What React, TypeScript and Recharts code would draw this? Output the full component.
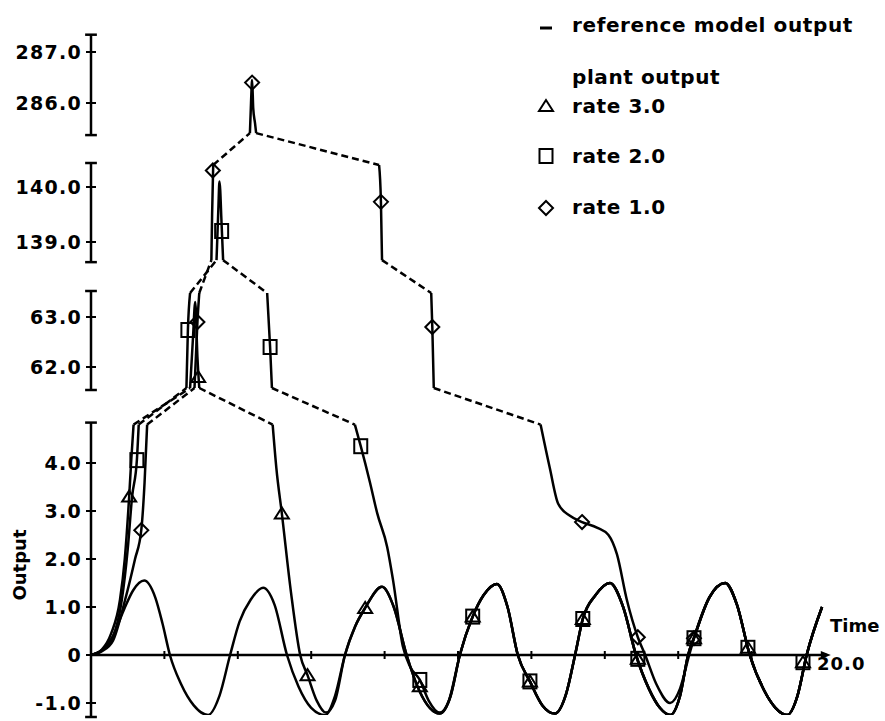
import { ComposedChart, Line, Scatter, XAxis, YAxis, ReferenceLine, ReferenceDot } from 'recharts'

type Pt = [number, number]

// reference model output, [time, value]
const referenceOutput: Pt[] = [
  [0, 0], [0.3, 0.1], [0.6, 0.4], [0.9, 0.95], [1.15, 1.35], [1.45, 1.55], [1.75, 1.2], [1.95, 0.65],
  [2.15, 0], [2.45, -0.6], [2.8, -1.05], [3.19, -1.25], [3.5, -0.85], [3.79, 0], [4.05, 0.7], [4.35, 1.15],
  [4.69, 1.4], [5.0, 1.05], [5.34, 0], [5.65, -0.65], [6.0, -1.1], [6.38, -1.25], [6.65, -0.85], [6.92, 0],
  [7.2, 0.6], [7.47, 0.98], [7.93, 1.42], [8.25, 1.0], [8.6, 0], [8.95, -0.75], [9.5, -1.22], [9.8, -0.85],
  [10.05, 0], [10.4, 0.8], [10.7, 1.25], [11.06, 1.48], [11.35, 1.0], [11.63, 0], [11.96, -0.55], [12.3, -1.05],
  [12.64, -1.22], [12.95, -0.8], [13.19, 0], [13.4, 0.75], [13.75, 1.25], [14.14, 1.5], [14.5, 1.0], [14.85, 0],
  [15.2, -0.7], [15.5, -1.1], [15.78, -1.25], [16.05, -0.85], [16.27, 0], [16.45, 0.4], [16.85, 1.2], [17.28, 1.5],
  [17.6, 1.05], [17.95, 0], [18.35, -0.75], [18.65, -1.1], [18.97, -1.25], [19.25, -0.85], [19.5, 0], [19.92, 1.0],
]

// plant output until it settles onto the reference curve
const plantRate3: Pt[] = [
  [0, 0], [0.3, 0.12], [0.55, 0.45], [0.79, 1.15], [0.92, 2.0], [1.04, 3.3], [1.1, 4.1], [1.16, 4.8],
  [2.7, 61.58], [2.78, 62.6], [2.84, 63.3], [2.9, 62.2], [2.95, 61.58],
  [4.95, 4.8], [5.05, 3.9], [5.2, 2.95], [5.45, 1.3], [5.7, 0], [5.9, -0.42], [6.15, -0.95], [6.4, -1.2], [6.65, -0.95],
]
const plantRate2: Pt[] = [
  [0, 0], [0.3, 0.1], [0.6, 0.38], [0.84, 1.15], [1.0, 2.2], [1.12, 3.3], [1.25, 4.06], [1.3, 4.8],
  [2.6, 61.58], [2.64, 62.74], [2.7, 63.48],
  [3.42, 138.67], [3.47, 139.6], [3.5, 140.1], [3.56, 139.3], [3.6, 138.67],
  [4.8, 63.48], [4.88, 62.4], [4.93, 61.58],
  [7.19, 4.8], [7.35, 4.35], [7.6, 3.6], [7.8, 2.95], [8.07, 2.25], [8.23, 1.56], [8.5, 0.17], [8.7, -0.25],
  [8.96, -0.52], [9.2, -0.95], [9.5, -1.2], [9.75, -0.95],
]
const plantRate1: Pt[] = [
  [0, 0], [0.3, 0.08], [0.6, 0.3], [0.93, 1.15], [1.2, 2.0], [1.37, 2.6], [1.46, 3.6], [1.53, 4.8],
  [2.82, 61.58], [2.9, 62.9], [2.95, 63.48],
  [3.28, 138.67], [3.3, 139.5], [3.33, 140.4],
  [4.33, 285.41], [4.36, 286.0], [4.39, 286.45], [4.42, 285.9], [4.47, 285.6], [4.5, 285.41],
  [7.85, 140.4], [7.9, 139.73], [7.93, 138.67],
  [9.27, 63.48], [9.3, 62.8], [9.34, 61.58],
  [12.25, 4.8], [12.5, 3.9], [12.73, 3.15], [13.05, 2.9], [13.38, 2.77], [13.8, 2.65], [14.1, 2.5], [14.33, 2.1],
  [14.6, 1.15], [14.9, 0.37], [15.1, 0], [15.4, -0.6], [15.78, -1.0], [16.05, -0.7], [16.3, 0],
]
const settleRate3 = 6.7
const settleRate2 = 9.9
const settleRate1 = 16.35

// marker positions
const rate3Markers: Pt[] = [
  [1.04, 3.3], [2.92, 61.8], [5.2, 2.95], [5.9, -0.42], [7.47, 0.98], [8.96, -0.65],
  [10.4, 0.8], [11.96, -0.55], [13.4, 0.75], [14.9, -0.08], [16.43, 0.35], [17.9, 0.15], [19.4, -0.15],
]
const rate2Markers: Pt[] = [
  [1.25, 4.06], [2.64, 62.74], [3.56, 139.2], [4.88, 62.4], [7.35, 4.35], [8.96, -0.52],
  [10.4, 0.8], [11.96, -0.55], [13.4, 0.75], [14.9, -0.08], [16.43, 0.35], [17.9, 0.15], [19.4, -0.15],
]
const rate1Markers: Pt[] = [
  [1.37, 2.6], [2.9, 62.9], [3.32, 140.3], [4.39, 286.4], [7.9, 139.73], [9.3, 62.8],
  [13.38, 2.77], [14.9, 0.37], [16.43, 0.35],
]

const yTickValues = [-1, 0, 1, 2, 3, 4, 62, 63, 139, 140, 286, 287]
const yTickLabels = ['-1.0', '0', '1.0', '2.0', '3.0', '4.0', '62.0', '63.0', '139.0', '140.0', '286.0', '287.0']
const xTickValues = [2, 4, 6, 8, 10, 12, 14, 16, 18]

// visible value ranges of the broken y axis
const axisPieces: Pt[] = [[-1.25, 4.8], [61.58, 63.48], [138.67, 140.4], [285.41, 287.3]]

// --- layout ---
const W = 885
const H = 721
const PLOT_LEFT = 91
const Y_AXIS_W = 85
const FONT = '"DejaVu Sans", sans-serif'
const VMIN = -60
const VMAX = 625
// each piece: value `ref` sits `at` px above the zero line, `k` px per unit
const pieceScale = [
  { ref: 0, at: 0, k: 48 },
  { ref: 62, at: 288, k: 50 },
  { ref: 139, at: 413, k: 55 },
  { ref: 286, at: 552, k: 51 },
]

const pieceOf = (v: number) => axisPieces.findIndex(([lo, hi]) => v >= lo - 1e-6 && v <= hi + 1e-6)

function toV(v: number): number {
  const i = pieceOf(v)
  if (i >= 0) {
    const s = pieceScale[i]
    return s.at + s.k * (v - s.ref)
  }
  for (let j = 0; j < axisPieces.length - 1; j++) {
    const a = axisPieces[j][1]
    const b = axisPieces[j + 1][0]
    if (v > a && v < b) {
      const va = toV(a)
      const vb = toV(b)
      return va + ((vb - va) * (v - a)) / (b - a)
    }
  }
  return v > 0 ? toV(axisPieces[axisPieces.length - 1][1]) : toV(axisPieces[0][0])
}

const toRows = (pts: Pt[]) => pts.map(([t, v]) => ({ t, v: toV(v) }))

// solid inside an axis piece, dashed where the curve jumps a break
function splitRuns(pts: Pt[]) {
  const solid: Pt[][] = []
  const dashed: Pt[][] = []
  let run: Pt[] = [pts[0]]
  for (let i = 1; i < pts.length; i++) {
    const a = pts[i - 1]
    const b = pts[i]
    if (pieceOf(a[1]) === pieceOf(b[1])) run.push(b)
    else {
      solid.push(run)
      dashed.push([a, b])
      run = [b]
    }
  }
  solid.push(run)
  return { solid, dashed }
}

const withTail = (pts: Pt[], from: number) => [...pts, ...referenceOutput.filter(([t]) => t > from)]

const plants = [withTail(plantRate3, settleRate3), withTail(plantRate2, settleRate2), withTail(plantRate1, settleRate1)]

const Triangle = (p: any) => (
  <polygon points={`${p.cx},${p.cy - 6} ${p.cx - 7},${p.cy + 5} ${p.cx + 7},${p.cy + 5}`} fill="none" stroke="#000" strokeWidth={2} />
)
const Square = (p: any) => <rect x={p.cx - 6.5} y={p.cy - 7} width={13} height={14} fill="none" stroke="#000" strokeWidth={2} />
const Diamond = (p: any) => (
  <polygon points={`${p.cx},${p.cy - 7} ${p.cx + 7},${p.cy} ${p.cx},${p.cy + 7} ${p.cx - 7},${p.cy}`} fill="none" stroke="#000" strokeWidth={2} />
)

const YTick = (props: any) => {
  const { y, payload } = props
  const idx = yTickValues.findIndex((v) => Math.abs(toV(v) - payload.value) < 0.01)
  return (
    <g>
      <line x1={PLOT_LEFT - 5} x2={PLOT_LEFT + 5} y1={y} y2={y} stroke="#000" strokeWidth={2} />
      <text x={PLOT_LEFT - 9} y={y} dy="0.36em" textAnchor="end" fontFamily={FONT} fontWeight="bold" fontSize={19} letterSpacing={1.3}>
        {idx >= 0 ? yTickLabels[idx] : ''}
      </text>
    </g>
  )
}

const Arrow = (p: any) => <polygon points={`${p.cx + 4},${p.cy} ${p.cx - 6},${p.cy - 4} ${p.cx - 6},${p.cy + 4}`} fill="#000" />

const TimeLabels = (p: any) => (
  <g fontFamily={FONT} fontWeight="bold" fontSize={18}>
    <text x={p.cx + 5} y={p.cy - 29} dy="0.36em">Time</text>
    <text x={p.cx - 8} y={p.cy + 9} dy="0.36em" letterSpacing={1}>20.0</text>
  </g>
)

const capDx = 0.16

export default function App() {
  return (
    <div style={{ position: 'absolute', left: 0, top: 0, width: W, height: H, background: '#fff' }}>
      <ComposedChart width={W} height={H} margin={{ top: 30, right: 60, bottom: 6, left: PLOT_LEFT - Y_AXIS_W }}>
        <XAxis type="number" dataKey="t" domain={[0, 20]} allowDataOverflow hide />
        <YAxis
          type="number"
          dataKey="v"
          domain={[VMIN, VMAX]}
          allowDataOverflow
          width={Y_AXIS_W}
          ticks={yTickValues.map(toV)}
          interval={0}
          axisLine={false}
          tickLine={false}
          tickSize={0}
          tickMargin={0}
          tick={<YTick />}
        />

        {/* broken y axis */}
        {axisPieces.map(([lo, hi], i) => (
          <ReferenceLine key={'ax' + i} segment={[{ x: 0, y: toV(lo) - 2 }, { x: 0, y: toV(hi) + 2 }]} stroke="#000" strokeWidth={2.5} ifOverflow="visible" />
        ))}
        {axisPieces.flatMap(([lo, hi], i) =>
          [lo, hi].map((v, j) => (
            <ReferenceLine key={'cap' + i + j} segment={[{ x: -capDx, y: toV(v) + (j ? 2 : -2) }, { x: capDx, y: toV(v) + (j ? 2 : -2) }]} stroke="#000" strokeWidth={2.5} ifOverflow="visible" />
          ))
        )}

        {/* time axis */}
        <ReferenceLine segment={[{ x: 0, y: 0 }, { x: 20.05, y: 0 }]} stroke="#000" strokeWidth={2.5} ifOverflow="visible" />
        {xTickValues.map((t) => (
          <ReferenceLine key={'xt' + t} segment={[{ x: t, y: -4 }, { x: t, y: 4 }]} stroke="#000" strokeWidth={2} ifOverflow="visible" />
        ))}
        <ReferenceDot x={20.05} y={0} ifOverflow="visible" shape={<Arrow />} />
        <ReferenceDot x={20} y={0} ifOverflow="visible" shape={<TimeLabels />} />

        <Line data={toRows(referenceOutput)} dataKey="v" type="monotone" stroke="#000" strokeWidth={2.5} dot={false} isAnimationActive={false} />

        {plants.map((pts, si) => {
          const { solid, dashed } = splitRuns(pts)
          return [
            ...solid.map((run, ri) => (
              <Line key={`s${si}-${ri}`} data={toRows(run)} dataKey="v" type="monotone" stroke="#000" strokeWidth={2.5} dot={false} isAnimationActive={false} />
            )),
            ...dashed.map((pair, ri) => (
              <Line key={`d${si}-${ri}`} data={toRows(pair)} dataKey="v" type="linear" stroke="#000" strokeWidth={2.5} strokeDasharray="7 4" dot={false} isAnimationActive={false} />
            )),
          ]
        })}

        <Scatter data={toRows(rate3Markers)} dataKey="v" shape={<Triangle />} isAnimationActive={false} />
        <Scatter data={toRows(rate2Markers)} dataKey="v" shape={<Square />} isAnimationActive={false} />
        <Scatter data={toRows(rate1Markers)} dataKey="v" shape={<Diamond />} isAnimationActive={false} />
      </ComposedChart>

      <svg width={W} height={H} style={{ position: 'absolute', left: 0, top: 0, pointerEvents: 'none' }} fontFamily={FONT} fontWeight="bold">
        <text transform="translate(26,565) rotate(-90)" textAnchor="middle" fontSize={18}>Output</text>
        <g fontSize={20} letterSpacing={0.6}>
          <line x1={540} x2={552} y1={28} y2={28} stroke="#000" strokeWidth={3} />
          <text x={572} y={32}>reference model output</text>
          <text x={572} y={84}>plant output</text>
          <Triangle cx={546} cy={106} />
          <text x={572} y={113}>rate 3.0</text>
          <Square cx={546} cy={156} />
          <text x={572} y={163}>rate 2.0</text>
          <Diamond cx={546} cy={208} />
          <text x={572} y={214}>rate 1.0</text>
        </g>
      </svg>
    </div>
  )
}
